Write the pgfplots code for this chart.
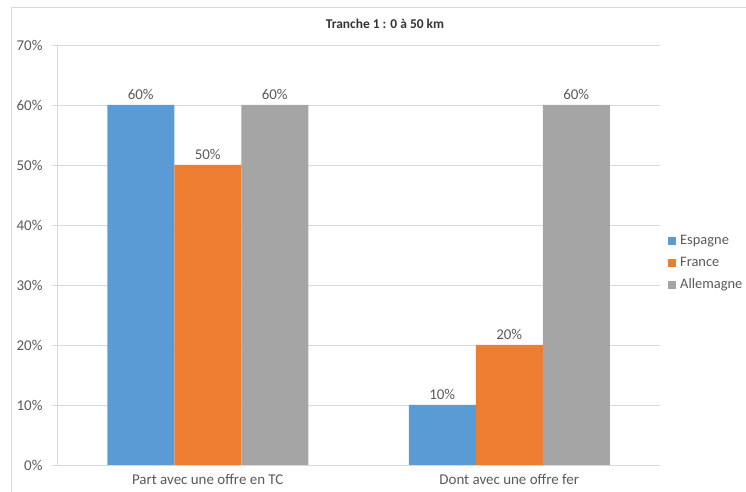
\documentclass[border=0pt]{standalone}
\usepackage{pgfplots}
\pgfplotsset{compat=1.18}
\usepackage{fontspec}
\setmainfont{Carlito}
\definecolor{cEsp}{HTML}{5B9BD5}
\definecolor{cFra}{HTML}{ED7D31}
\definecolor{cAll}{HTML}{A5A5A5}
\definecolor{txt}{HTML}{595959}
\definecolor{gridc}{HTML}{D9D9D9}
\begin{document}
\begin{tikzpicture}[x=1bp,y=1bp]
\begin{axis}[
  name=ax, at={(0,0)}, anchor=south west,
  scale only axis, width=603bp, height=420bp,
  ybar=0pt, bar width=67bp,
  xmin=-0.5, xmax=1.5, ymin=0, ymax=70,
  xtick={0,1},
  xticklabels={Part avec une offre en TC, Dont avec une offre fer},
  major x tick style={draw=none},
  extra x ticks={-0.5,0.5,1.5},
  extra x tick labels={},
  extra x tick style={major tick length=5bp, tick style={draw=gridc}},
  ytick={0,10,...,70},
  yticklabel={\pgfmathprintnumber{\tick}\%},
  /pgf/number format/assume math mode=true,
  tick align=outside, major tick length=5bp,
  tick style={draw=gridc, line width=0.8bp},
  ymajorgrids, grid style={draw=gridc, line width=0.8bp},
  axis x line*=bottom, axis y line*=left,
  axis line style={draw=gridc, line width=0.8bp, -},
  ticklabel style={font=\fontsize{15}{17}\selectfont, text=txt},
  yticklabel style={xshift=-6bp},
  xticklabel style={yshift=-1bp},
  nodes near coords={\pgfmathprintnumber{\pgfplotspointmeta}\%},
  nodes near coords style={font=\fontsize{15}{17}\selectfont, text=txt, yshift=2bp},
  legend style={at={(1,0.481)}, anchor=west, xshift=5bp, draw=none, fill=none,
    font=\fontsize{14.5}{17}\selectfont, text=txt, row sep=7bp,
    /tikz/every even column/.append style={column sep=2bp}},
  legend cell align=left,
  legend image code/.code={\fill[#1] (0bp,-4bp) rectangle (8bp,4bp);},
]
\addplot[fill=cEsp, draw=none] coordinates {(0,60) (1,10)};
\addplot[fill=cFra, draw=none] coordinates {(0,50) (1,20)};
\addplot[fill=cAll, draw=none] coordinates {(0,60) (1,60)};
\legend{\hspace{2bp}Espagne, \hspace{2bp}France, \hspace{2bp}Allemagne}
\end{axis}
% chart frame and title
\begin{scope}[shift={(ax.south west)}]
  \draw[draw=gridc, line width=1bp] (-45,-30) -- (-45,457) -- (700,457);
  \node[font=\bfseries\fontsize{13.5}{15}\selectfont, text=black!80] at (328,441) {Tranche 1 : 0 à 50 km};
\end{scope}
\pgfresetboundingbox
\useasboundingbox ([shift={(-57bp,-27bp)}]ax.south west) rectangle ([shift={(689bp,465bp)}]ax.south west);
\end{tikzpicture}
\end{document}
